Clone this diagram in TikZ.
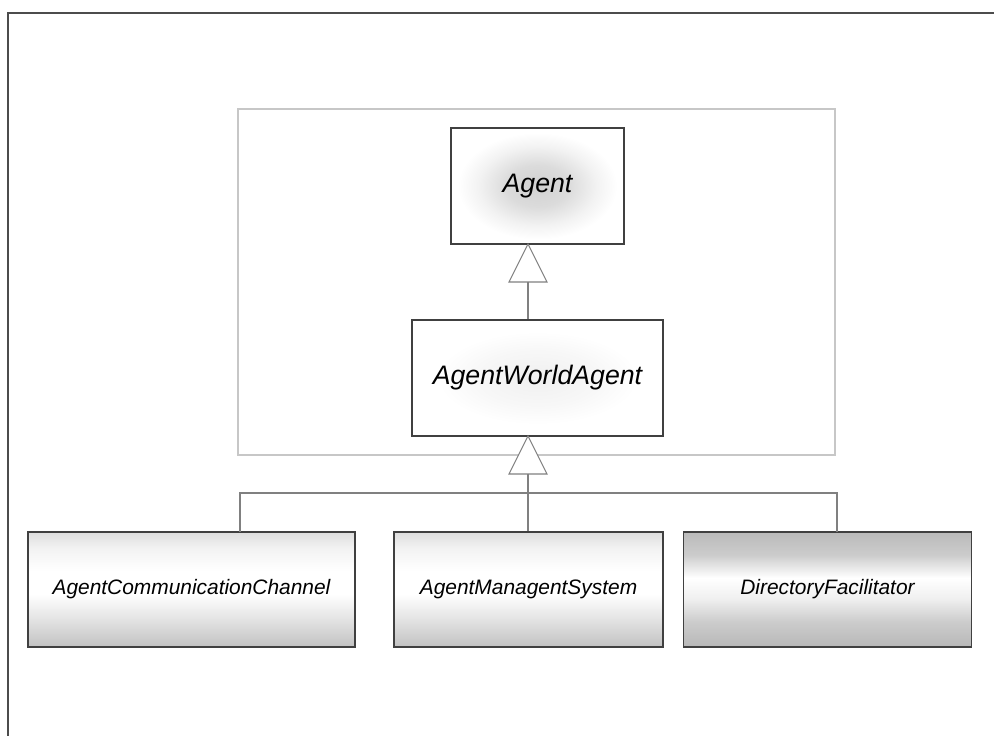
\documentclass[tikz,border=0pt]{standalone}
\usepackage{fontspec}
\setmainfont{Liberation Sans}
\usepackage{tikz}
\usetikzlibrary{positioning,calc}

\pgfdeclareverticalshading{subshade}{100bp}{color(0bp)=(black!24); color(25bp)=(black!24); color(37bp)=(black!11); color(48bp)=(white); color(58bp)=(white); color(68bp)=(black!5); color(75bp)=(black!13); color(100bp)=(black!13)}
\pgfdeclareverticalshading{dfshade}{100bp}{color(0bp)=(black!28); color(25bp)=(black!28); color(36bp)=(black!20); color(46bp)=(white!94!black); color(55bp)=(white); color(65bp)=(black!20); color(75bp)=(black!27); color(100bp)=(black!27)}
\pgfdeclareradialshading{agentshade}{\pgfpoint{0bp}{0bp}}{color(0bp)=(black!18); color(9bp)=(black!14); color(17bp)=(black!5); color(23bp)=(white); color(50bp)=(white)}
\pgfdeclareradialshading{awashade}{\pgfpoint{0bp}{0bp}}{color(0bp)=(black!6); color(12bp)=(black!3); color(20bp)=(white); color(50bp)=(white)}

\begin{document}
\begin{tikzpicture}[x=0.2mm, y=-0.2mm,
		Class/.style={
			draw=black!75,
			line width=0.8pt,
			rectangle,
			inner sep=0pt,
			minimum height=116*0.2mm,
			font=\itshape\fontsize{15.2pt}{18pt}\selectfont
		},
		SubClass/.style={
			Class,
			minimum height=115*0.2mm,
			shading=subshade,
			font=\itshape\fontsize{11.9pt}{14pt}\selectfont
		},
		Link/.style={draw=black!50, line width=0.6pt},
		Head/.style={draw=black!50, line width=0.6pt, fill=white}
	]
	\useasboundingbox (0,0) rectangle (994,736);
	\begin{scope}
		\clip (0,0) rectangle (994,736);
		\draw[black!70, line width=1pt] (8,13) rectangle (1010,760);
	\end{scope}
	% package frame
	\draw[black!22, line width=0.8pt] (238,109) rectangle (835,455);
	% classes
	\node[Class, minimum width=173*0.2mm, shading=agentshade] (agent) at (537.5,186) {Agent};
	\node[Class, minimum width=251*0.2mm, shading=awashade] (awa) at (537.5,378) {AgentWorldAgent};
	\node[SubClass, minimum width=327*0.2mm] (acc) at (191.5,589.5) {AgentCommunicationChannel};
	\node[SubClass, minimum width=269*0.2mm] (ams) at (528.5,589.5) {AgentManagentSystem};
	\node[SubClass, minimum width=288*0.2mm, shading=dfshade] (df) at (827.5,589.5) {DirectoryFacilitator};
	% generalisation awa -> agent
	\coordinate (tipA) at (528,244);
	\coordinate (baseA) at (528,282);
	\draw[Head] (tipA) -- ($(baseA)+(19,0)$) -- ($(baseA)+(-19,0)$) -- cycle;
	\draw[Link] (baseA) -- (baseA |- awa.north);
	% generalisation subclasses -> awa
	\coordinate (tipB) at (528,436);
	\coordinate (baseB) at (528,474);
	\coordinate (bus) at (528,493);
	\draw[Link] (baseB) -- (bus);
	\draw[Link] (240,532) coordinate (accTop) |- (bus);
	\draw[Link] (837,532) coordinate (dfTop) |- (bus);
	\draw[Link] (bus) -- (bus |- ams.north);
	\draw[Head] (tipB) -- ($(baseB)+(19,0)$) -- ($(baseB)+(-19,0)$) -- cycle;
\end{tikzpicture}
\end{document}
